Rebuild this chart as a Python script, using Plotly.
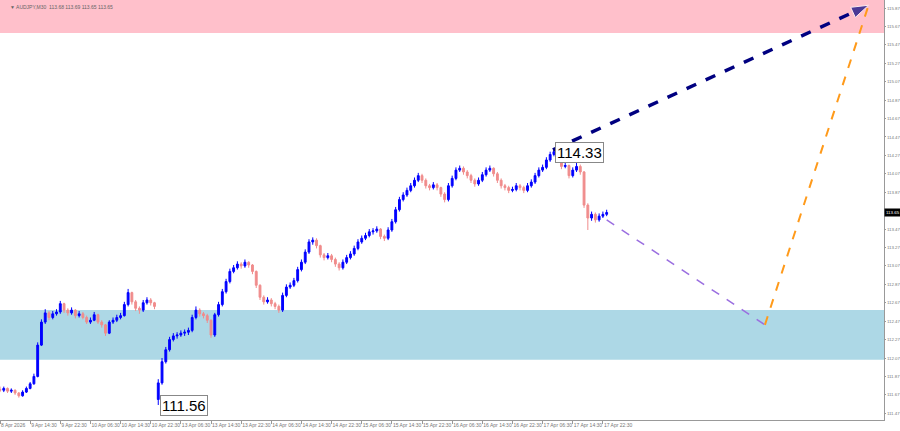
import plotly.graph_objects as go

# ---- data (hourly candles built from M30 chart, x = M30 bar index) ----
opens = [111.73,111.72,111.74,111.71,111.72,111.69,111.66,111.70,111.74,111.79,
         111.87,112.21,112.46,112.56,112.51,112.55,112.57,112.66,112.59,112.56,
         112.59,112.53,112.55,112.51,112.46,112.48,112.54,112.46,112.43,112.34,
         112.46,112.48,112.51,112.53,112.65,112.78,112.68,112.61,112.59,112.67,
         112.70,112.67,111.62,111.80,112.03,112.16,112.27,112.31,112.32,112.34,
         112.35,112.37,112.51,112.59,112.55,112.53,112.48,112.32,112.54,112.65,
         112.79,112.90,113.01,113.05,113.09,113.07,113.11,113.08,113.01,112.86,
         112.73,112.68,112.70,112.66,112.63,112.59,112.75,112.84,112.86,112.91,
         113.03,113.11,113.22,113.33,113.35,113.29,113.19,113.16,113.18,113.14,
         113.09,113.05,113.11,113.16,113.20,113.26,113.33,113.37,113.40,113.44,
         113.45,113.47,113.39,113.37,113.46,113.55,113.68,113.79,113.84,113.89,
         113.94,114.00,114.05,114.00,113.94,113.92,113.95,113.92,113.85,113.79,
         113.94,114.02,114.11,114.13,114.09,114.05,114.00,113.96,114.00,114.06,
         114.11,114.13,114.07,114.00,113.94,113.92,113.89,113.90,113.94,113.92,
         113.89,113.94,113.98,114.05,114.11,114.14,114.22,114.28,114.31,114.22,
         114.15,114.16,114.05,114.11,114.15,114.09,113.73,113.59,113.63,113.57,
         113.61,113.63]
closes = [111.72,111.74,111.71,111.72,111.69,111.66,111.70,111.74,111.79,111.87,
          112.21,112.46,112.56,112.51,112.55,112.57,112.66,112.59,112.56,112.59,
          112.53,112.55,112.51,112.46,112.48,112.54,112.46,112.43,112.34,112.46,
          112.48,112.51,112.53,112.65,112.78,112.68,112.61,112.59,112.67,112.70,
          112.67,112.63,111.80,112.03,112.16,112.27,112.31,112.32,112.34,112.35,
          112.37,112.51,112.59,112.55,112.53,112.48,112.32,112.54,112.65,112.79,
          112.90,113.01,113.05,113.09,113.07,113.11,113.08,113.01,112.86,112.73,
          112.68,112.70,112.66,112.63,112.59,112.75,112.84,112.86,112.91,113.03,
          113.11,113.22,113.33,113.35,113.29,113.19,113.16,113.18,113.14,113.09,
          113.05,113.11,113.16,113.20,113.26,113.33,113.37,113.40,113.44,113.45,
          113.47,113.39,113.37,113.46,113.55,113.68,113.79,113.84,113.89,113.94,
          114.00,114.05,114.00,113.94,113.92,113.95,113.92,113.85,113.79,113.94,
          114.02,114.11,114.13,114.09,114.05,114.00,113.96,114.00,114.06,114.11,
          114.13,114.07,114.00,113.94,113.92,113.89,113.90,113.94,113.92,113.89,
          113.94,113.98,114.05,114.11,114.14,114.22,114.28,114.31,114.22,114.15,
          114.16,114.05,114.11,114.15,114.09,113.73,113.59,113.63,113.57,113.61,
          113.63,113.65]
highs = [111.76,111.76,111.75,111.74,111.73,111.70,111.72,111.76,111.81,111.90,
         112.24,112.49,112.60,112.58,112.58,112.60,112.69,112.67,112.61,112.62,
         112.60,112.58,112.57,112.53,112.51,112.57,112.55,112.48,112.44,112.48,
         112.51,112.54,112.56,112.68,112.82,112.79,112.70,112.63,112.70,112.73,
         112.72,112.68,111.84,112.07,112.19,112.30,112.34,112.35,112.37,112.38,
         112.40,112.54,112.63,112.61,112.57,112.55,112.49,112.56,112.68,112.82,
         112.93,113.04,113.08,113.12,113.11,113.14,113.12,113.09,113.02,112.87,
         112.75,112.73,112.72,112.68,112.65,112.78,112.87,112.89,112.94,113.06,
         113.14,113.25,113.36,113.38,113.37,113.30,113.21,113.21,113.20,113.16,
         113.11,113.14,113.19,113.23,113.29,113.36,113.40,113.43,113.47,113.48,
         113.50,113.48,113.41,113.49,113.58,113.71,113.82,113.87,113.92,113.97,
         114.03,114.08,114.07,114.02,113.96,113.98,113.97,113.93,113.87,113.97,
         114.05,114.14,114.16,114.15,114.11,114.07,114.02,114.03,114.09,114.14,
         114.16,114.14,114.09,114.02,113.96,113.94,113.93,113.97,113.96,113.94,
         113.97,114.01,114.08,114.14,114.17,114.25,114.31,114.33,114.32,114.24,
         114.19,114.17,114.14,114.19,114.17,114.10,113.75,113.66,113.65,113.64,
         113.66,113.68]
lows = [111.70,111.70,111.69,111.69,111.67,111.64,111.65,111.69,111.73,111.78,
        111.86,112.20,112.44,112.48,112.49,112.53,112.55,112.56,112.53,112.54,
        112.50,112.51,112.49,112.44,112.44,112.47,112.44,112.40,112.31,112.33,
        112.44,112.46,112.49,112.52,112.63,112.65,112.58,112.55,112.57,112.65,
        112.64,112.60,111.56,111.78,112.01,112.14,112.25,112.28,112.30,112.31,
        112.32,112.35,112.49,112.52,112.50,112.45,112.29,112.30,112.52,112.63,
        112.77,112.88,112.99,113.03,113.04,113.05,113.05,112.98,112.83,112.70,
        112.65,112.66,112.63,112.60,112.56,112.57,112.73,112.82,112.84,112.89,
        113.01,113.09,113.20,113.30,113.26,113.16,113.13,113.14,113.11,113.06,
        113.02,113.03,113.09,113.14,113.18,113.24,113.31,113.35,113.38,113.41,
        113.43,113.36,113.34,113.35,113.44,113.53,113.66,113.77,113.82,113.87,
        113.92,113.98,113.97,113.91,113.89,113.90,113.89,113.82,113.76,113.77,
        113.92,114.00,114.09,114.06,114.02,113.97,113.93,113.94,113.98,114.04,
        114.09,114.04,113.97,113.91,113.89,113.86,113.87,113.88,113.89,113.86,
        113.87,113.92,113.96,114.03,114.09,114.12,114.20,114.26,114.19,114.12,
        114.13,114.02,114.03,114.09,114.06,113.70,113.46,113.56,113.54,113.55,
        113.59,113.61]
bar_index = [2 * k for k in range(len(closes))]

tick_idx = [16 * j for j in range(21)]
tick_text = ["8 Apr 2026", "9 Apr 14:30", "9 Apr 22:30", "10 Apr 06:30", "10 Apr 14:30",
             "10 Apr 22:30", "13 Apr 06:30", "13 Apr 14:30", "13 Apr 22:30", "14 Apr 06:30",
             "14 Apr 14:30", "14 Apr 22:30", "15 Apr 06:30", "15 Apr 14:30", "15 Apr 22:30",
             "16 Apr 06:30", "16 Apr 14:30", "16 Apr 22:30", "17 Apr 06:30", "17 Apr 14:30",
             "17 Apr 22:30"]
price_ticks = [111.47, 111.67, 111.87, 112.07, 112.27, 112.47, 112.67, 112.87, 113.07,
               113.27, 113.47, 113.87, 114.07, 114.27, 114.47, 114.67, 114.87,
               115.07, 115.27, 115.47, 115.67, 115.87]

# zones
sell_zone = [115.60, 116.00]
buy_zone = [112.05, 112.59]

# forecast waves
wave_up_x = [293.5, 461]
wave_up_y = [114.33, 115.90]
fc_down_x = [322, 406]
fc_down_y = [113.57, 112.43]
fc_up_x = [406, 461]
fc_up_y = [112.43, 115.90]

label_hi = 114.33
label_lo = 111.56
last_price = 113.65
header = "\u25BC AUDJPY,M30  113.68 113.69 113.65 113.65"

XR = [0, 469.2]
YR = [111.397, 115.957]

fig = go.Figure()

fig.add_shape(type="rect", xref="x", yref="y", x0=XR[0], x1=XR[1], y0=sell_zone[0], y1=sell_zone[1],
              fillcolor="#ffc0cb", line_width=0, layer="below")
fig.add_shape(type="rect", xref="x", yref="y", x0=XR[0], x1=XR[1], y0=buy_zone[0], y1=buy_zone[1],
              fillcolor="#add8e6", line_width=0, layer="below")

fig.add_trace(go.Candlestick(
    x=bar_index, open=opens, high=highs, low=lows, close=closes,
    increasing=dict(line=dict(color="#0000ff", width=1), fillcolor="#0000ff"),
    decreasing=dict(line=dict(color="#f08c8c", width=1), fillcolor="#f08c8c"),
    whiskerwidth=0, showlegend=False, hoverinfo="skip"))

fig.add_trace(go.Scatter(x=fc_down_x, y=fc_down_y, mode="lines",
                         line=dict(color="#9a6ee0", width=1.5, dash="dash"),
                         showlegend=False, hoverinfo="skip"))
fig.add_trace(go.Scatter(x=fc_up_x, y=fc_up_y, mode="lines",
                         line=dict(color="#ff9a1a", width=2, dash="dash"),
                         showlegend=False, hoverinfo="skip"))
fig.add_trace(go.Scatter(x=wave_up_x, y=wave_up_y, mode="lines+markers",
                         line=dict(color="#000080", width=3.5, dash="dash"),
                         marker=dict(symbol=["circle", "arrow"], size=[0, 18], angleref="previous",
                                     color="#000080"),
                         showlegend=False, hoverinfo="skip"))

fig.add_annotation(x=wave_up_x[0] + 1, y=label_hi, xref="x", yref="y", text=f"{label_hi:.2f}",
                   showarrow=False, xanchor="left", yanchor="bottom", yshift=-13,
                   font=dict(family="Liberation Sans, Arial", size=15, color="#000"),
                   bgcolor="#ffffff", bordercolor="#888", borderwidth=1, borderpad=1)
fig.add_annotation(x=85, y=label_lo, xref="x", yref="y", text=f"{label_lo:.2f}",
                   showarrow=False, xanchor="left", yanchor="top", yshift=10,
                   font=dict(family="Liberation Sans, Arial", size=15, color="#000"),
                   bgcolor="#ffffff", bordercolor="#888", borderwidth=1, borderpad=1)

fig.add_annotation(x=1, y=last_price, xref="paper", yref="y", text=f"{last_price:.2f}",
                   showarrow=False, xanchor="left", yanchor="middle",
                   font=dict(family="Liberation Sans, Arial", size=4.4, color="#fff"),
                   bgcolor="#000000", borderpad=1)
fig.add_annotation(x=0.009, y=0.995, xref="paper", yref="paper", text=header,
                   showarrow=False, xanchor="left", yanchor="top",
                   font=dict(family="Liberation Sans, Arial", size=5, color="#666"))

fig.update_layout(
    width=900, height=431,
    margin=dict(l=0, r=16, t=0, b=11, autoexpand=False),
    paper_bgcolor="#ffffff", plot_bgcolor="#ffffff",
    xaxis=dict(range=XR, tickvals=tick_idx, ticktext=tick_text, showgrid=False, zeroline=False,
               rangeslider=dict(visible=False), showline=True, linecolor="#999", linewidth=1,
               mirror=True, ticks="outside", ticklen=3, tickcolor="#999", tickangle=0,
               automargin=False, ticklabelposition="outside right",
               tickfont=dict(family="Liberation Sans, Arial", size=5, color="#777")),
    yaxis=dict(range=YR, side="right", tickvals=price_ticks, automargin=False,
               ticktext=[f"{v:.2f}" for v in price_ticks], showgrid=False, zeroline=False,
               showline=True, linecolor="#999", linewidth=1, mirror=True,
               ticks="outside", ticklen=1, tickcolor="#999",
               tickfont=dict(family="Liberation Sans, Arial", size=4.4, color="#777")),
)

fig.write_html("out.html", config={"displayModeBar": False, "staticPlot": True},
               post_script="document.body.style.margin='0px';")
